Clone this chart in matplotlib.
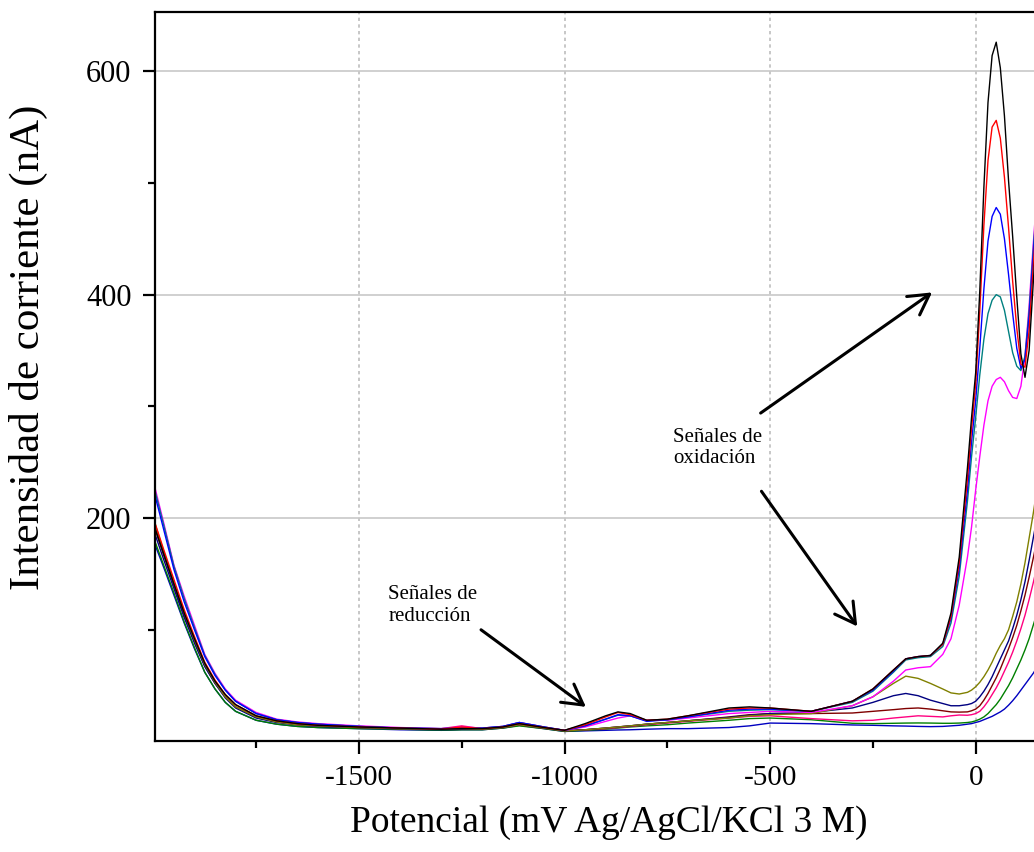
import matplotlib
matplotlib.use("Agg")
import matplotlib.pyplot as plt
from matplotlib.ticker import MultipleLocator, FixedLocator

plt.rcParams['font.family'] = ['Liberation Serif', 'DejaVu Serif']
plt.rcParams['axes.unicode_minus'] = False

# potencial (mV) comun a todos los barridos
potential = [-2000, -1975, -1950, -1925, -1900, -1875, -1850, -1825, -1800, -1750,
             -1700, -1650, -1600, -1500, -1400, -1300, -1250, -1200, -1150, -1110,
             -1050, -1000,
             -950, -900, -870, -840, -800, -750, -700, -600, -550, -500,
             -400, -300, -250, -200,
             -170, -140, -110, -80, -60, -40, -20, -10, 0, 10,
             20, 30, 40, 50, 60, 70, 80, 90, 100, 110,
             120, 130, 140, 150]

# intensidad de corriente (nA) de cada barrido
i_black = [195, 168, 141, 115, 92, 70, 54, 42, 33, 23, 18.5, 16, 14.5, 13, 12, 11, 11.5, 11.5, 13, 16, 12.5, 10,
           16, 23, 26.5, 25, 19, 20, 23, 30, 31, 30, 27, 36, 47, 64,
           74, 76, 77, 88, 115, 165, 245, 290, 330, 403, 496, 572, 614, 626, 603, 560, 502, 452, 398, 347, 326, 350, 410, 470]
i_red = [200, 172, 145, 118, 94, 71, 55, 42, 33, 23, 18.5, 16, 14.5, 13, 12, 11, 13, 11.5, 13, 16, 12.5, 10,
         15, 22, 26, 24, 19, 20, 23, 29, 30, 30, 27, 36, 47, 64,
         74, 76, 77, 87, 112, 160, 235, 280, 320, 385, 462, 520, 550, 556, 540, 505, 460, 412, 370, 338, 335, 368, 425, 480]
i_blue = [226, 190, 154, 125, 100, 76, 59, 46, 36, 25, 19.5, 17, 15.5, 13.5, 12, 11.5, 12, 12, 13.5, 17, 13, 10,
          14, 20, 24, 23, 18, 19.5, 22, 28, 29, 29, 27, 36, 46, 63,
          74, 76, 77, 87, 110, 155, 225, 268, 305, 352, 405, 448, 470, 478, 472, 450, 418, 383, 352, 334, 342, 380, 435, 490]
i_teal = [230, 194, 157, 128, 102, 77, 60, 46, 36, 25, 19.5, 17, 15.5, 13.5, 12, 11.5, 12, 12, 13.5, 17, 13, 10,
          14, 20, 23.5, 23, 18.5, 19.5, 22, 27, 28, 28.5, 27, 35, 45, 62,
          73, 75, 76, 85, 106, 148, 215, 255, 290, 328, 360, 383, 395, 400, 398, 386, 367, 348, 336, 332, 345, 385, 440, 490]
i_magenta = [233, 196, 158, 130, 104, 78, 61, 47, 37, 26, 20, 17.5, 16, 14, 12.5, 11.5, 13, 12, 13.5, 17, 13, 10,
             13, 18, 21, 23, 19, 19, 21, 25, 26, 27, 26, 32, 40, 54,
             64, 66, 67, 78, 92, 122, 165, 192, 225, 255, 283, 305, 318, 324, 326, 322, 314, 308, 307, 318, 345, 390, 445, 495]
i_olive = [200, 170, 142, 115, 91, 69, 53, 40, 31, 22, 17.5, 15, 14, 12.5, 11.5, 11, 11.5, 11, 12.5, 15, 12, 9.5,
           10.5, 12, 13, 14, 15.5, 17, 18.5, 21, 23, 24, 25, 32, 40, 52,
           58.5, 56.5, 52, 47, 43.5, 42.5, 44, 46, 49, 53, 58, 64, 71, 79, 86, 92, 100, 112, 125, 141, 160, 182, 204, 228]
i_navy = [190, 163, 137, 111, 88, 67, 52, 39, 30, 21, 17, 15, 13.5, 12.5, 11.5, 10.5, 11, 11, 12.5, 15, 12, 9.5,
          10.5, 12, 13, 14, 15.5, 17, 18.5, 21.5, 23.5, 25, 26, 30, 35, 41,
          43, 41, 37, 34, 32, 32, 33, 34, 36, 40, 45, 51, 58, 66, 74, 82, 90, 101, 113, 127, 143, 162, 182, 202]
i_wine = [195, 167, 140, 113, 90, 68, 52, 40, 31, 22, 17.5, 15, 14, 12.5, 11.5, 11, 11.5, 11, 12.5, 15, 12, 9.5,
          10.5, 12, 13, 14, 15.5, 17, 18.5, 22, 24, 25, 25, 25.5, 27, 28.5,
          29.5, 30, 29, 27.5, 26.5, 26.3, 26.5, 27.5, 29, 32, 37, 43, 50, 57, 65, 74, 83, 93, 104, 117, 131, 147, 164, 182]
i_pink = [197, 169, 141, 114, 90, 68, 53, 40, 31, 22, 17.5, 15.5, 14, 13, 12, 11.5, 14, 11.5, 13, 16, 12.5, 10,
          10.5, 11.5, 12.5, 13.5, 15, 16.5, 18, 21, 22.5, 23, 20.5, 18.5, 19, 21,
          22, 23, 22.5, 22, 23, 23.7, 23.5, 24, 25, 27, 31, 36, 42, 48, 55, 63, 71, 80, 90, 101, 113, 127, 142, 158]
i_green = [183, 158, 133, 107, 84, 62, 47, 35, 27, 19, 15.5, 13.5, 12.5, 11.5, 11, 10, 10.5, 10.5, 12, 14, 11.5, 9,
           10, 11, 12, 13, 14, 15, 16.5, 19, 20.5, 21, 19.5, 16.3, 16, 16.3,
           16.5, 16.6, 16.5, 16.3, 16.3, 16.5, 17, 17.5, 18.5, 20, 22, 25, 29, 33, 38, 44, 50, 57, 65, 73, 82, 92, 104, 116]
i_royal = [180, 156, 131, 106, 83, 62, 47, 35, 27, 19, 15.5, 13.5, 12.5, 11.5, 10.5, 10, 10.5, 10.5, 12, 14.5, 11.5, 9,
           9.5, 10, 10.3, 10.5, 11, 11.5, 11.5, 12.5, 14, 16.5, 16, 14.8, 14.5, 14,
           13.8, 13.5, 13.3, 13.5, 14, 14.5, 15.5, 16, 17, 18, 19.5, 21, 22.5, 24.5, 26.5, 29, 32.5, 36.5, 41, 46, 51, 56, 61, 67]

curves = [
    (i_royal, '#0000C0'),
    (i_green, '#008000'),
    (i_pink, '#FF0080'),
    (i_wine, '#800000'),
    (i_navy, '#000080'),
    (i_olive, '#808000'),
    (i_magenta, '#FF00FF'),
    (i_teal, '#008080'),
    (i_blue, '#0000FF'),
    (i_red, '#FF0000'),
    (i_black, '#000000'),
]

fig = plt.figure(figsize=(10.34, 8.52), dpi=100)
ax = fig.add_axes([0.1499, 0.1297, 0.8573, 0.8562])

for values, color in curves:
    ax.plot(potential, values, color=color, lw=1.0, solid_joinstyle='round')

ax.set_xlim(-1996, 160)
ax.set_ylim(0, 653)

ax.xaxis.set_major_locator(MultipleLocator(500))
ax.xaxis.set_minor_locator(MultipleLocator(250))
ax.yaxis.set_major_locator(FixedLocator([200, 400, 600]))
ax.yaxis.set_minor_locator(FixedLocator([100, 300, 500]))

ax.set_axisbelow(True)
ax.grid(axis='y', which='major', color='#c8c8c8', lw=1.2, ls='-')
ax.grid(axis='x', which='major', color='#bdbdbd', lw=1.2, ls=(0, (2, 2)))

for side in ['left', 'bottom', 'top', 'right']:
    ax.spines[side].set_linewidth(1.6)

ax.tick_params(which='major', direction='out', length=9, width=1.6,
               labelsize=21, pad=8, top=False, right=False)
ax.tick_params(axis='y', which='major', labelsize=22)
ax.tick_params(which='minor', direction='out', length=5, width=1.6,
               top=False, right=False)

ax.set_xlabel('Potencial (mV Ag/AgCl/KCl 3 M)', fontsize=27)
ax.set_ylabel('Intensidad de corriente (nA)', fontsize=31)
ax.xaxis.set_label_coords(0.5115, -0.088)
ax.yaxis.set_label_coords(-0.121, 0.54)

arrow = dict(arrowstyle='->,head_length=0.8,head_width=0.45', color='black',
             lw=2.2, mutation_scale=18, shrinkA=0, shrinkB=0)

ax.text(-1429, 121.7, 'Señales de\nreducción', fontsize=15, ha='left', va='center', linespacing=1.15)
ax.annotate('', xy=(-948, 31), xytext=(-1203, 100), arrowprops=arrow)

ax.text(-735, 262.6, 'Señales de\noxidación', fontsize=15, ha='left', va='center', linespacing=1.15)
ax.annotate('', xy=(-106, 402), xytext=(-523, 294), arrowprops=arrow)
ax.annotate('', xy=(-288, 103), xytext=(-521, 224), arrowprops=arrow)

fig.savefig('out.png', dpi=100)
